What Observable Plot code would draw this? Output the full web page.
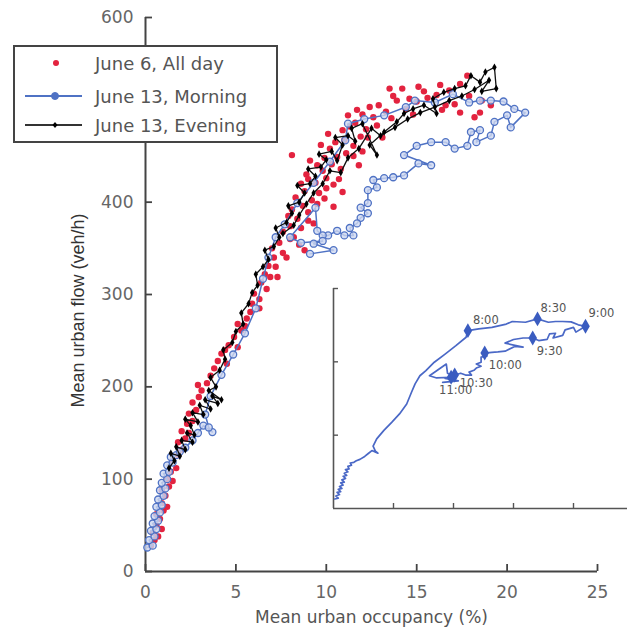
<!DOCTYPE html>
<html><head><meta charset="utf-8">
<script src="https://cdn.jsdelivr.net/npm/d3@7"></script>
<script src="https://cdn.jsdelivr.net/npm/@observablehq/plot@0.6"></script>
<style>
body{margin:0;background:#fff;}
#wrap{position:relative;width:627px;height:635px;overflow:hidden;}
#main,#inset,#legend{position:absolute;}
#main{left:0;top:0;}
#inset{left:300px;top:270px;}
#legend{left:13px;top:45px;}
</style></head><body>
<div id="wrap"><div id="main"></div><div id="inset"></div><div id="legend"></div></div>
<script>
// ---------- data ----------
const xTicks = [0, 5, 10, 15, 20, 25];
const yTicks = [0, 100, 200, 300, 400, 500, 600];
const yTickLabels = [0, 100, 200, 300, 400, 600]; // 500 is hidden behind the legend
const insetXTicks = [5, 10, 15, 20];
const insetYTicks = [200, 400, 600];
const seriesNames = ["June 6, All day", "June 13, Morning", "June 13, Evening"];
const xLabel = "Mean urban occupancy (%)";
const yLabel = "Mean urban flow (veh/h)";

// June 6, all day (scatter)
const june6 = [[0.3,28],[0.5,34],[0.4,42],[0.7,38],[0.6,50],[0.9,46],[0.8,57],[0.6,62],[1.0,66],[0.9,74],[1.2,70],[1.1,82],[0.9,88],[1.3,92],[1.2,100],[1.5,98],[1.4,108],[1.7,112],[1.5,120],[1.8,126],[2.0,132],[1.8,140],[2.2,144],[2.0,152],[2.4,150],[2.3,160],[2.6,163],[2.4,171],[2.8,175],[2.6,183],[2.95,189],[3.1,196],[2.9,202],[3.4,204],[3.6,212],[3.8,220],[4.0,228],[4.5,225],[4.2,236],[4.6,245],[5.1,243],[4.9,254],[5.3,261],[5.6,274],[5.5,266],[5.8,281],[6.3,285],[6.3,295],[6.0,301],[6.7,306],[6.4,313],[6.9,319],[7.3,319],[6.8,331],[7.1,340],[7.8,340],[7.6,345],[8.8,348],[8.2,362],[9.3,377],[8.5,354],[7.4,356],[7.6,368],[8.0,374],[8.4,382],[8.1,392],[8.7,396],[9.0,389],[9.2,402],[8.8,412],[9.6,410],[9.9,404],[9.4,421],[10.0,426],[10.4,419],[9.8,434],[10.3,441],[10.8,436],[10.6,449],[11.1,453],[10.9,411],[11.5,461],[11.0,467],[11.9,471],[12.2,479],[11.6,486],[12.4,503],[12.8,483],[10.1,474],[8.1,451],[11.2,494],[13.5,523],[14.2,523],[15.1,525],[13.6,491],[14.4,501],[15.0,509],[15.6,513],[16.1,516],[16.6,505],[17.1,506],[17.9,515],[17.8,537],[17.4,497],[18.2,492],[18.5,497],[16.8,521],[14.8,495],[13.1,470],[12.0,455],[9.0,425],[10.4,395],[11.8,440],[9.5,440],[10.2,458],[10.9,478],[11.7,500],[9.9,448],[8.9,430],[8.3,405],[7.9,385],[12.6,492],[13.9,510],[8.6,420],[9.1,445],[9.7,462],[10.5,465],[11.3,482],[12.0,495],[12.9,505],[13.3,498],[10.7,425],[10.0,415],[9.5,398],[9.0,380],[8.6,372],[8.0,360],[7.2,330],[11.5,450],[12.3,470],[13.7,515],[14.6,512],[15.4,520],[16.3,527],[17.4,528],[18.6,510],[19.1,505],[16.4,500],[7.0,350],[6.6,322],[5.9,290],[5.1,268],[4.4,240]];

// June 13, morning (ordered trajectory)
const morning = [[0.1,26],[0.4,28],[0.2,34],[0.5,38],[0.3,44],[0.6,46],[0.4,52],[0.7,55],[0.5,60],[0.8,64],[0.6,70],[0.9,72],[0.7,78],[1.0,82],[0.8,88],[1.1,90],[0.9,96],[1.2,100],[1.0,106],[1.3,108],[1.2,115],[1.5,118],[1.4,124],[1.7,126],[1.9,130],[2.2,134],[2.6,142],[2.9,150],[3.2,158],[3.7,151],[3.5,156],[3.3,170],[3.6,190],[4.2,213],[4.85,235],[5.5,258],[6.1,285],[6.5,317],[6.8,340],[7.2,362],[7.7,376],[8.4,399],[9.3,421],[10.2,444],[11.05,467],[11.2,485],[12.1,490],[13.2,494],[14.4,503],[14.9,510],[16.0,508],[17.0,517],[17.9,508],[18.5,510],[19.1,510],[19.8,509],[20.4,501],[21.0,497],[20.2,481],[20.0,494],[19.3,487],[19.1,472],[18.3,465],[18.5,478],[18.0,476],[17.8,461],[17.1,458],[16.6,465],[15.8,465],[15.0,461],[14.3,451],[15.8,440],[15.1,442],[14.3,429],[13.7,427],[13.2,426],[12.6,424],[12.8,416],[12.3,413],[12.3,399],[11.9,394],[12.3,388],[11.9,383],[11.7,377],[11.3,372],[11.5,364],[11.0,364],[10.6,369],[10.1,364],[9.8,364],[9.5,369],[9.4,394],[8.0,362],[8.6,356],[9.8,358],[9.3,355],[10.4,348],[9.1,344]];

// June 13, evening (ordered trajectory)
const evening = [[1.3,112],[1.6,120],[1.4,128],[1.9,125],[1.7,135],[2.2,132],[2.0,142],[2.6,140],[2.3,150],[2.7,148],[2.5,158],[2.2,165],[2.9,162],[2.6,172],[3.2,170],[3.0,180],[3.6,176],[3.3,186],[4.0,182],[3.7,190],[4.2,186],[3.5,196],[3.9,200],[3.6,210],[4.1,218],[4.4,230],[4.3,240],[4.8,248],[5.0,260],[5.4,268],[5.3,280],[5.7,290],[5.9,302],[6.2,310],[6.1,322],[6.5,330],[6.8,338],[6.6,348],[7.1,352],[7.4,362],[7.2,372],[7.8,378],[8.1,388],[7.9,396],[8.5,400],[8.8,410],[8.4,418],[9.1,420],[9.4,428],[9.0,436],[9.7,438],[10.0,446],[9.6,452],[10.3,455],[10.6,445],[10.9,462],[10.5,470],[11.2,472],[11.6,466],[11.4,480],[12.0,485],[12.8,451],[12.4,462],[13.2,476],[13.9,487],[14.3,496],[14.8,501],[15.4,505],[16.1,496],[15.9,512],[16.5,519],[17.1,523],[17.7,526],[18.0,537],[18.5,530],[18.8,541],[19.3,546],[19.4,523],[18.6,520],[19.0,532],[18.2,522],[17.5,515],[16.8,510],[16.0,503],[15.2,497],[14.5,490],[13.8,481],[13.0,472],[12.5,480],[11.8,458],[11.2,448],[10.8,432],[10.2,434],[9.8,420],[9.3,410],[8.9,398],[8.5,386],[8.2,375],[7.6,366]];

// inset time markers
const timeLabels = ["8:00","8:30","9:00","9:30","10:00","10:30","11:00"];
const timeX = [11.2, 17.0, 21.0, 16.6, 12.6, 10.1, 9.8];
const timeY = [485, 517, 497, 465, 424, 364, 358];

// ---------- styling / layout ----------
const FONT = "DejaVu Sans";
const RED = "#e3233f", BLUE = "#4f72c4", BLACK = "#111";
const AX = "#444";
const labelOffsets = {"8:00":[5,-10],"8:30":[3,-11],"9:00":[3,-13],"9:30":[4,13],"10:00":[4,12],"10:30":[5,8],"11:00":[-12,13]};

const times = timeLabels.map((t, i) => ({t, x: timeX[i], y: timeY[i]}));
const px = d => d[0], py = d => d[1];

const main = Plot.plot({
  width: 627, height: 635,
  marginLeft: 145, marginRight: 30, marginTop: 17, marginBottom: 64,
  style: {fontFamily: FONT, fontSize: "17px", color: "#666", background: "transparent", overflow: "visible"},
  x: {domain: [0, 25]},
  y: {domain: [0, 600]},
  marks: [
    Plot.axisX({ticks: xTicks, tickSize: 0, tickPadding: 14, label: null, fill: "#666"}),
    Plot.axisY({ticks: yTickLabels, tickSize: 0, tickPadding: 12, label: null, fill: "#666"}),
    Plot.ruleX([0], {y1: 0, y2: 600, stroke: AX, strokeWidth: 2}),
    Plot.ruleY([0], {x1: 0, x2: 25, stroke: AX, strokeWidth: 2}),
    Plot.tickX(xTicks, {x: d => d, insetTop: 547, stroke: AX, strokeWidth: 1.8}),
    Plot.tickY(yTicks, {y: d => d, insetRight: 445, stroke: AX, strokeWidth: 1.8}),
    Plot.text([yLabel], {frameAnchor: "left", text: d => d, rotate: -90, dx: -67, dy: 16, textAnchor: "middle", lineAnchor: "middle", fontSize: 18, fontFamily: "Liberation Sans", fill: "#333"}),
    Plot.text([xLabel], {frameAnchor: "bottom", text: d => d, dy: 46, textAnchor: "middle", lineAnchor: "middle", fontSize: 17, fill: "#555"}),
    Plot.dot(june6, {x: px, y: py, r: 3.2, fill: RED, stroke: "none"}),
    Plot.line(morning, {x: px, y: py, stroke: BLUE, strokeWidth: 1.5}),
    Plot.dot(morning, {x: px, y: py, r: 3.5, fill: "#cdd7f0", fillOpacity: 0.8, stroke: BLUE, strokeWidth: 1.3}),
    Plot.line(evening, {x: px, y: py, stroke: BLACK, strokeWidth: 1.3}),
    Plot.dot(evening, {x: px, y: py, symbol: "diamond", r: 2.3, fill: "#000", stroke: "none"})
  ]
});
document.getElementById("main").appendChild(main);

const inset = Plot.plot({
  width: 327, height: 250,
  marginLeft: 33, marginRight: 0, marginTop: 18, marginBottom: 12,
  style: {fontFamily: FONT, fontSize: "11.5px", background: "transparent", overflow: "visible"},
  x: {domain: [0, 24.5], axis: null},
  y: {domain: [0, 600], axis: null},
  marks: [
    Plot.ruleX([0], {y1: 0, y2: 600, stroke: "#555", strokeWidth: 1.6}),
    Plot.ruleY([0], {x1: 0, x2: 24.5, stroke: "#555", strokeWidth: 1.6}),
    Plot.tickX(insetXTicks, {x: d => d, insetTop: 215, stroke: "#555", strokeWidth: 1.4}),
    Plot.tickY(insetYTicks, {y: d => d, insetRight: 289, stroke: "#555", strokeWidth: 1.4}),
    Plot.line(morning, {x: px, y: py, stroke: "#4a68c6", strokeWidth: 1.7}),
    Plot.dot(times, {x: "x", y: "y", symbol: "diamond", r: 4.5, fill: "#3a5cc0", stroke: "none"}),
    Plot.text(times, {x: "x", y: "y", text: "t", textAnchor: "start", fill: "#555"})
  ]
});
document.getElementById("inset").appendChild(inset);

// apply per-label offsets for inset time labels
{
  const texts = inset.querySelectorAll('g[aria-label="text"] text');
  texts.forEach((el, i) => {
    const [dx, dy] = labelOffsets[times[i].t];
    const tr = el.getAttribute("transform") || "";
    el.setAttribute("transform", tr + ` translate(${dx},${dy})`);
  });
}

// legend
const L = document.getElementById("legend");
L.innerHTML = `<svg width="265" height="98" xmlns="http://www.w3.org/2000/svg" style="font-family:'${FONT}';font-size:18px;">
  <rect x="1" y="1" width="263" height="96" fill="#fff" stroke="${AX}" stroke-width="2"/>
  <circle cx="43" cy="18" r="3" fill="${RED}"/>
  <line x1="12" y1="51" x2="69" y2="51" stroke="${BLUE}" stroke-width="2"/>
  <circle cx="42" cy="51" r="3.5" fill="${BLUE}" stroke="${BLUE}"/>
  <line x1="12" y1="80" x2="69" y2="80" stroke="#333" stroke-width="2"/>
  <path d="M42,77 L44.5,80 L42,83 L39.5,80 Z" fill="#000"/>
  <text x="82" y="18" dominant-baseline="central" fill="#555">${seriesNames[0]}</text>
  <text x="82" y="51" dominant-baseline="central" fill="#555">${seriesNames[1]}</text>
  <text x="82" y="80" dominant-baseline="central" fill="#555">${seriesNames[2]}</text>
</svg>`;
</script>
</body></html>
